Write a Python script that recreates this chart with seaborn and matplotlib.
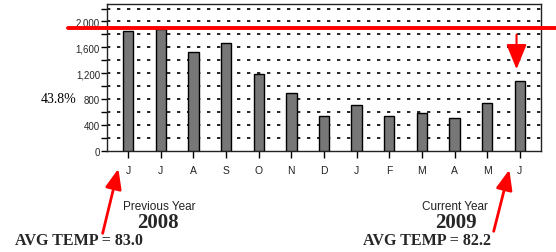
import matplotlib
matplotlib.use("Agg")
import matplotlib.pyplot as plt
import seaborn as sns
import pandas as pd
import numpy as np
from matplotlib.ticker import MultipleLocator, FuncFormatter

# ---- data ----
periods = ["Jun08", "Jul08", "Aug08", "Sep08", "Oct08", "Nov08", "Dec08",
           "Jan09", "Feb09", "Mar09", "Apr09", "May09", "Jun09"]
month_letters = ["J", "J", "A", "S", "O", "N", "D", "J", "F", "M", "A", "M", "J"]
values = [1850, 1880, 1525, 1675, 1190, 890, 535, 710, 535, 590, 505, 740, 1075]
target_value = 1900
arrow_top_value = 1840
arrow_tip_value = 1220
side_label = "43.8%"
prev_label, prev_year, prev_avg = "Previous Year", "2008", "AVG TEMP = 83.0"
curr_label, curr_year, curr_avg = "Current Year", "2009", "AVG TEMP = 82.2"

df = pd.DataFrame({"period": periods, "value": values})

sns.set_theme(style="white")
plt.rcParams["font.family"] = ["Liberation Sans", "DejaVu Sans"]

fig = plt.figure(figsize=(5.56, 2.53), dpi=100)
ax = fig.add_axes([107/556, 1-152/253, 434/556, 147/253])

sns.barplot(data=df, x="period", y="value", order=periods, color="#777777",
            edgecolor="black", linewidth=1.0, width=0.32, saturation=1, ax=ax, zorder=3)

ax.set_xlim(-0.65, len(periods) - 1 + 0.65)
ax.set_ylim(0, 2270)
ax.set_xlabel("")
ax.set_ylabel("")
ax.set_xticks(range(len(periods)))
ax.set_xticklabels(month_letters, fontsize=7.5, color="#222222")
ax.yaxis.set_major_locator(MultipleLocator(400))
ax.yaxis.set_minor_locator(MultipleLocator(200))
ax.yaxis.set_major_formatter(FuncFormatter(lambda v, p: f"{int(v):,}"))
ax.tick_params(axis="y", which="both", direction="out", length=4, width=1,
               color="black", left=True, labelsize=7, pad=1)
ax.tick_params(axis="x", direction="out", length=5, width=1, color="black",
               bottom=True, pad=5)
for s in ax.spines.values():
    s.set_color("#222222")
    s.set_linewidth(1.0)

for gy in np.arange(200, 2270, 200):
    ax.axhline(gy, color="black", linestyle=(0, (2, 4)), linewidth=1.2, zorder=1)

# red target line extending beyond axes
ax.axhline(target_value, xmin=(68-107)/434, xmax=(556-107)/434, color="red",
           linewidth=2.8, clip_on=False, zorder=5)
ax.annotate("", xy=(11.9, arrow_tip_value), xytext=(11.9, arrow_top_value),
            arrowprops=dict(arrowstyle="-|>,head_width=0.45,head_length=1.1",
                            color="red", lw=1.5, mutation_scale=14), zorder=6)

# texts
fig.text(59/556, 1-100/253, side_label, family="Liberation Serif", fontsize=10,
         ha="center", va="center", color="black")
fig.text(159/556, 1-207/253, prev_label, fontsize=8.5, ha="center", va="center",
         color="#222222")
fig.text(158/556, 1-223/253, prev_year, family="Liberation Serif", fontsize=15,
         fontweight="bold", ha="center", va="center")
fig.text(79/556, 1-241/253, prev_avg, family="Liberation Serif", fontsize=11.5,
         fontweight="bold", ha="center", va="center")
fig.text(455/556, 1-207/253, curr_label, fontsize=8.5, ha="center", va="center",
         color="#222222")
fig.text(456/556, 1-223/253, curr_year, family="Liberation Serif", fontsize=15,
         fontweight="bold", ha="center", va="center")
fig.text(427/556, 1-241/253, curr_avg, family="Liberation Serif", fontsize=11.5,
         fontweight="bold", ha="center", va="center")

arrow_kw = dict(arrowstyle="-|>,head_width=0.45,head_length=1.1", color="red", lw=2)
fig.add_artist(matplotlib.patches.FancyArrowPatch(
    (102/556, 1-237/253), (119/556, 1-167/253), transform=fig.transFigure,
    mutation_scale=11, **arrow_kw))
fig.add_artist(matplotlib.patches.FancyArrowPatch(
    (493/556, 1-235/253), (510/556, 1-168/253), transform=fig.transFigure,
    mutation_scale=11, **arrow_kw))

fig.savefig("out.png", dpi=100)
